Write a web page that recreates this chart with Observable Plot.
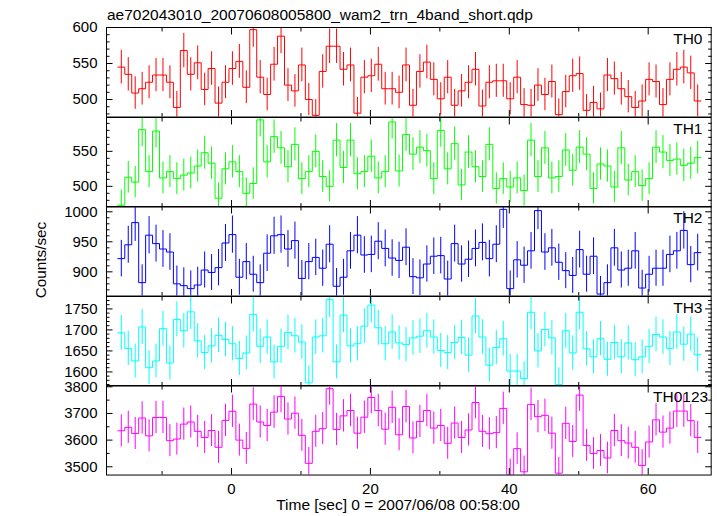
<!DOCTYPE html>
<html><head><meta charset="utf-8">
<script src="https://cdn.jsdelivr.net/npm/d3@7"></script>
<script src="https://cdn.jsdelivr.net/npm/@observablehq/plot@0.6"></script>
<style>
html,body{margin:0;padding:0;background:#fff;}
#chart{position:relative;width:717px;height:516px;overflow:hidden;background:#fff;}
#chart svg{position:absolute;left:0;}
</style></head><body><div id="chart"></div>
<script>
// ---------------- data ----------------
const title = "ae702043010_20070608005800_wam2_trn_4band_short.qdp";
const xLabel = "Time [sec] 0 = 2007/06/08 00:58:00";
const yLabel = "Counts/sec";
const binStart = -16.37;   // left edge of first 1-s bin (sec)
const binSize = 1;         // sec
const th0 = [545,535,509,515,524,534,534,524,489,568, 535,551,514,543,495,524,543,553,517,597,
  531,507,549,588,520,512,548,500,478,539, 574,574,542,548,481,531,533,549,515,515,
  510,548,492,539,552,528,501,531,492,512, 524,542,491,524,526,526,501,531,493,492,
  520,507,525,479,511,533,536,485,496,487, 534,529,515,504,489,498,528,525,493,528,
  542,545,537,498];
const th1 = [473,513,506,581,521,579,512,521,511,516, 519,529,548,533,483,525,535,521,490,504,
  595,535,571,555,528,560,511,521,550,514, 500,566,527,566,518,521,543,512,521,592,
  522,574,546,556,551,511,580,525,561,502, 549,528,514,560,497,511,499,512,494,566,
  514,555,512,514,552,523,556,546,497,532, 529,499,555,509,521,501,511,556,549,537,
  539,530,533,541];
const th2 = [922,945,982,882,961,947,938,933,880,877, 872,878,903,899,907,948,962,891,917,896,
  882,931,960,962,938,952,889,917,924,906, 946,876,891,935,961,928,929,951,939,923,
  919,941,892,890,913,926,927,888,947,913, 921,939,949,922,946,1004,872,920,911,935,
  1002,933,940,916,902,894,937,896,926,863, 882,940,903,906,935,873,896,906,906,929,
  935,969,912,932];
const th3 = [1693,1656,1626,1707,1610,1626,1703,1621,1725,1698, 1743,1674,1646,1662,1687,1677,1667,1632,1645,1737,
  1661,1683,1624,1661,1694,1686,1671,1574,1683,1686, 1772,1624,1735,1662,1667,1709,1759,1705,1667,1695,
  1669,1665,1681,1685,1698,1683,1651,1646,1670,1682, 1640,1733,1683,1616,1658,1679,1602,1602,1584,1742,
  1650,1701,1681,1570,1698,1645,1742,1655,1636,1679, 1630,1670,1636,1669,1629,1636,1661,1689,1683,1656,
  1695,1666,1690,1641];
const th0123 = [3635,3648,3625,3683,3616,3685,3685,3598,3604,3660, 3668,3633,3610,3636,3573,3674,3708,3600,3569,3735,
  3668,3655,3705,3764,3679,3701,3618,3513,3633,3643, 3793,3640,3691,3711,3626,3686,3760,3711,3641,3723,
  3620,3726,3608,3670,3711,3645,3655,3588,3664,3610, 3638,3741,3633,3624,3628,3719,3470,3568,3481,3734,
  3688,3693,3626,3476,3663,3595,3769,3580,3550,3561, 3533,3636,3598,3589,3573,3505,3593,3676,3630,3645,
  3709,3709,3673,3610];
const panelNames = ["TH0", "TH1", "TH2", "TH3", "TH0123"];
const panelSeries = [th0, th1, th2, th3, th0123];
const panelColors = ["#ff0000", "#00ff00", "#0000ff", "#00ffff", "#ff00ff"];
const panelDomains = [[475.7, 600], [470.4, 598.4], [859.7, 1008.8], [1566.4, 1779.5], [3469, 3804.9]];
const yMajorTicks = [[500, 550, 600], [500, 550], [900, 950, 1000], [1600, 1650, 1700, 1750], [3500, 3600, 3700, 3800]];
const yMinorStep = [10, 10, 10, 10, 50];
const xDomain = [-18, 69.07];
const xMajorTicks = [0, 20, 40, 60];
const xMinorTicks = [-10, 10, 30, 50];

// ---------------- layout ----------------
const W = 717, H = 516;
const frameLeft = 106, frameRight = 710.7, frameTop = 27.3, frameBottom = 475;
const panelH = (frameBottom - frameTop) / panelNames.length;
const pad = 12;
const labelDx = [-8.7, -8.7, -8.7, -8.7, -3];
const font = "Liberation Sans, Arial, Helvetica, sans-serif";
const plain = d => String(d);

const chart = document.getElementById("chart");

panelNames.forEach((name, i) => {
  const values = panelSeries[i];
  const color = panelColors[i];
  const [lo, hi] = panelDomains[i];
  const rows = values.map((v, k) => {
    const err = Math.sqrt(v * binSize) / binSize; // Poisson error of a 1-s bin
    return {t: binStart + (k + 0.5) * binSize, v, lo: v - err, hi: v + err};
  });
  const steps = values.map((v, k) => ({t: binStart + k * binSize, v}));
  steps.push({t: binStart + values.length * binSize, v: values[values.length - 1]});
  const majors = yMajorTicks[i];
  const step = yMinorStep[i];
  const minors = d3.range(Math.ceil(lo / step) * step, hi, step).filter(v => !majors.includes(v) && v > lo + 0.5 && v < hi - 0.5);
  const isLast = i === panelNames.length - 1;
  const top = frameTop + i * panelH;
  const mb = isLast ? H - frameBottom : pad;
  const tick = 6.5, minorTick = 3.5;
  const marks = [
    Plot.ruleX(rows, {x: "t", y1: "lo", y2: "hi", stroke: color, strokeWidth: 1, clip: true}),
    Plot.line(steps, {x: "t", y: "v", curve: "step-after", stroke: color, strokeWidth: 1, clip: true}),
    Plot.frame({stroke: "black", strokeWidth: 1}),
    // inward ticks on all four sides
    Plot.axisX(xMajorTicks, {anchor: "bottom", tickSize: tick, dy: -tick, fill: "none", stroke: "black"}),
    Plot.axisX(xMinorTicks, {anchor: "bottom", tickSize: minorTick, dy: -minorTick, fill: "none", stroke: "black"}),
    Plot.axisX(xMajorTicks, {anchor: "top", tickSize: tick, dy: tick, fill: "none", stroke: "black"}),
    Plot.axisX(xMinorTicks, {anchor: "top", tickSize: minorTick, dy: minorTick, fill: "none", stroke: "black"}),
    Plot.axisY(majors, {anchor: "left", tickSize: tick, dx: tick, fill: "none", stroke: "black"}),
    Plot.axisY(minors, {anchor: "left", tickSize: minorTick, dx: minorTick, fill: "none", stroke: "black"}),
    Plot.axisY(majors, {anchor: "right", tickSize: tick, dx: -tick, fill: "none", stroke: "black"}),
    Plot.axisY(minors, {anchor: "right", tickSize: minorTick, dx: -minorTick, fill: "none", stroke: "black"}),
    // tick labels
    Plot.axisY(majors, {anchor: "left", tickSize: 0, tickPadding: 9, label: null, fill: "black", fontSize: 15, tickFormat: plain}),
    Plot.text([name], {frameAnchor: "top-right", text: d => d, textAnchor: "end", lineAnchor: "bottom",
      dx: labelDx[i], dy: 16.5, fontSize: 15.5, fill: "black"})
  ];
  if (isLast) {
    marks.push(Plot.axisX(xMajorTicks, {anchor: "bottom", tickSize: 0, tickPadding: 8, label: null, fill: "black", fontSize: 15, tickFormat: plain}));
  }
  const svg = Plot.plot({
    width: W,
    height: panelH + pad + mb,
    marginLeft: frameLeft,
    marginRight: W - frameRight,
    marginTop: pad,
    marginBottom: mb,
    x: {domain: xDomain, axis: null},
    y: {domain: [lo, hi], axis: null},
    style: {fontFamily: font, fontSize: "15px", background: "transparent", overflow: "visible", color: "black"},
    marks
  });
  svg.style.position = "absolute";
  svg.style.left = "0px";
  svg.style.top = (top - pad) + "px";
  chart.appendChild(svg);
});

// titles / axis labels
const overlay = d3.create("svg")
  .attr("width", W).attr("height", H)
  .style("position", "absolute").style("left", "0px").style("top", "0px")
  .style("pointer-events", "none")
  .attr("font-family", font);
overlay.append("text").attr("x", 107).attr("y", 20).attr("font-size", 15.5).attr("fill", "black").text(title);
overlay.append("text").attr("transform", "translate(46,260) rotate(-90)").attr("text-anchor", "middle")
  .attr("font-size", 15.3).attr("fill", "black").text(yLabel);
overlay.append("text").attr("x", 398).attr("y", 509.5).attr("text-anchor", "middle")
  .attr("font-size", 15.5).attr("fill", "black").text(xLabel);
chart.appendChild(overlay.node());
</script></body></html>
